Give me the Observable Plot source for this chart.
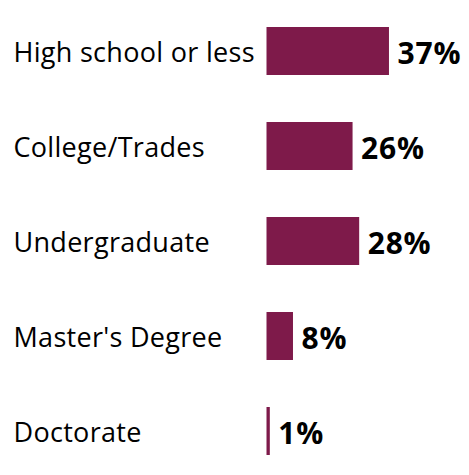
<!DOCTYPE html>
<html>
<head>
<meta charset="utf-8">
<script src="https://cdn.jsdelivr.net/npm/d3@7"></script>
<script src="https://cdn.jsdelivr.net/npm/@observablehq/plot@0.6"></script>
<style>
  html, body { margin: 0; padding: 0; background: #fff; }
  #chart svg { display: block; }
  #chart g[font-size="27"] { letter-spacing: 0.3px; }
  #chart g[font-size="30"] { letter-spacing: 0.8px; }
</style>
</head>
<body>
<div id="chart"></div>
<script>
const categories = ["High school or less", "College/Trades", "Undergraduate", "Master's Degree", "Doctorate"];
const values = [37, 26, 28, 8, 1];
const valueLabels = ["37%", "26%", "28%", "8%", "1%"];

const data = categories.map((c, i) => ({category: c, value: values[i], label: valueLabels[i]}));

const chart = Plot.plot({
  width: 469,
  height: 475,
  marginTop: 2,
  marginBottom: 0,
  marginLeft: 0,
  marginRight: 0,
  style: {fontFamily: "'Open Sans', sans-serif", background: "#fff"},
  x: {domain: [0, 40], range: [266.5, 266.5 + 40 * 3.31], axis: null},
  y: {domain: categories, range: [2, 480], paddingInner: 0.5, paddingOuter: 0.25, axis: null},
  marks: [
    Plot.barX(data, {x: "value", y: "category", fill: "#7e1a4a"}),
    Plot.ruleX([0], {stroke: "#bfbfbf", strokeWidth: 1.5, y1: 2, y2: 475}),
    Plot.text(data, {x: 0, y: "category", text: "category", textAnchor: "start", dx: -253.5, dy: 1.5, fontSize: 27, fill: "#000"}),
    Plot.text(data, {x: "value", y: "category", text: "label", textAnchor: "start", dx: 8, dy: 2.5, fontSize: 30, fontWeight: "bold", fill: "#000"})
  ]
});
document.getElementById("chart").appendChild(chart);
</script>
</body>
</html>
